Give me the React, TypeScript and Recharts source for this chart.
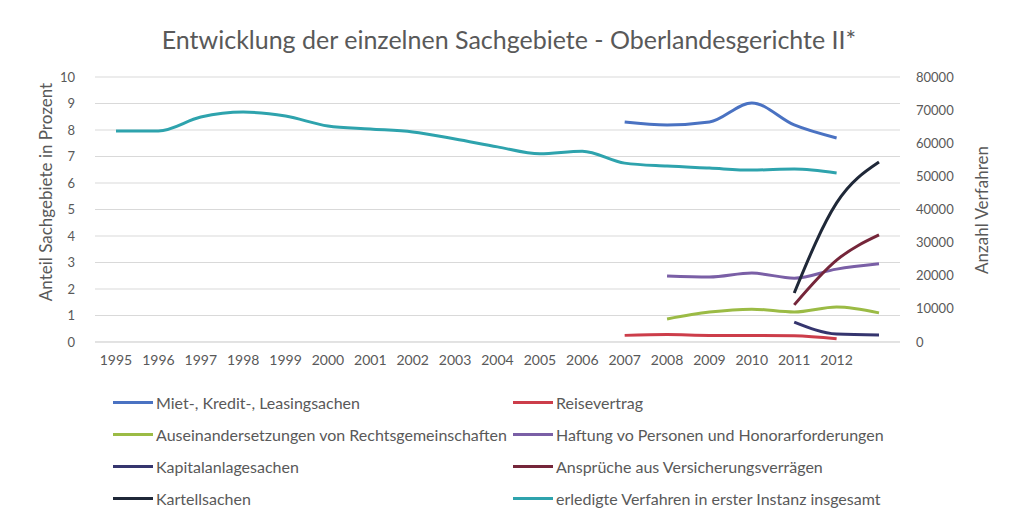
import React from 'react';
import { ComposedChart, Line, XAxis, YAxis, CartesianGrid } from 'recharts';

const years = ['1995','1996','1997','1998','1999','2000','2001','2002','2003','2004','2005','2006','2007','2008','2009','2010','2011','2012','2013'];
const tickLabels = ['1995','1996','1997','1998','1999','2000','2001','2002','2003','2004','2005','2006','2007','2008','2009','2010','2011','2012',''];
const N = null;
const miet = [N,N,N,N,N,N,N,N,N,N,N,N,8.3,8.19,8.3,9.02,8.19,7.7,N];
const reise = [N,N,N,N,N,N,N,N,N,N,N,N,0.25,0.28,0.25,0.25,0.24,0.12,N];
const ausein = [N,N,N,N,N,N,N,N,N,N,N,N,N,0.87,1.13,1.24,1.13,1.32,1.1];
const haftung = [N,N,N,N,N,N,N,N,N,N,N,N,N,2.49,2.45,2.6,2.41,2.75,2.95];
const kapital = [N,N,N,N,N,N,N,N,N,N,N,N,N,N,N,N,0.75,0.3,0.26];
const anspr = [N,N,N,N,N,N,N,N,N,N,N,N,N,N,N,N,1.4,3.09,4.04];
const kartell = [N,N,N,N,N,N,N,N,N,N,N,N,N,N,N,N,1.85,5.25,6.79];
const erledigt = [63700,63700,67900,69400,68200,65200,64300,63400,61300,58900,56800,57600,54000,53100,52500,51900,52200,51000,N];

const leftTicks = [0,1,2,3,4,5,6,7,8,9,10];
const rightTicks = [0,10000,20000,30000,40000,50000,60000,70000,80000];

const series = [
  { key: 'miet', name: 'Miet-, Kredit-, Leasingsachen', color: '#4a72c2', axis: 'left', values: miet },
  { key: 'reise', name: 'Reisevertrag', color: '#cc3d4a', axis: 'left', values: reise },
  { key: 'ausein', name: 'Auseinandersetzungen von Rechtsgemeinschaften', color: '#9bbb45', axis: 'left', values: ausein },
  { key: 'haftung', name: 'Haftung vo Personen und Honorarforderungen', color: '#7a5fa6', axis: 'left', values: haftung },
  { key: 'kapital', name: 'Kapitalanlagesachen', color: '#35356e', axis: 'left', values: kapital },
  { key: 'anspr', name: 'Ansprüche aus Versicherungsverrägen', color: '#75263a', axis: 'left', values: anspr },
  { key: 'kartell', name: 'Kartellsachen', color: '#1f2838', axis: 'left', values: kartell },
  { key: 'erledigt', name: 'erledigte Verfahren in erster Instanz insgesamt', color: '#2ea3ad', axis: 'right', values: erledigt },
];

const data = years.map((y, i) => {
  const row: any = { year: y };
  series.forEach(s => { row[s.key] = s.values[i]; });
  return row;
});

const FONT = 'Lato, "Open Sans", sans-serif';
const GRAY = '#595959';

export default function App() {
  return (
    <div style={{ position: 'absolute', left: 0, top: 0, width: 1018, height: 518, background: '#fff', fontFamily: FONT }}>
      <div style={{ position: 'absolute', left: 0, top: 24, width: 1018, textAlign: 'center', fontSize: 25, color: GRAY, fontFamily: FONT }}>
        Entwicklung der einzelnen Sachgebiete - Oberlandesgerichte II*
      </div>
      <ComposedChart width={1018} height={518} data={data} margin={{ top: 77, right: 0, bottom: 146, left: 0 }}>
        <CartesianGrid vertical={false} stroke="#d9d9d9" yAxisId="left" />
        <XAxis dataKey="year" tickLine={false} axisLine={{ stroke: '#d9d9d9' }} height={30} tickSize={0} tickMargin={13}
          interval={0} padding={{ left: 21, right: 21 }} tickFormatter={(v: string, i: number) => tickLabels[i]}
          tick={{ fill: GRAY, fontSize: 14, fontFamily: FONT }} />
        <YAxis yAxisId="left" orientation="left" domain={[0, 10]} ticks={leftTicks} width={95} axisLine={false} tickLine={false}
          tickSize={0} tickMargin={20} tick={{ fill: GRAY, fontSize: 13, fontFamily: FONT }} />
        <YAxis yAxisId="right" orientation="right" domain={[0, 80000]} ticks={rightTicks} width={118} axisLine={false} tickLine={false}
          tickSize={0} tickMargin={16} tick={{ fill: GRAY, fontSize: 13, fontFamily: FONT }} />
        {series.map(s => (
          <Line key={s.key} yAxisId={s.axis} type="monotone" dataKey={s.key} name={s.name} stroke={s.color} strokeWidth={3}
            dot={false} activeDot={false} isAnimationActive={false} connectNulls={false} />
        ))}
      </ComposedChart>
      <div style={{ position: 'absolute', left: 45, top: 192, transform: 'translate(-50%, -50%) rotate(-90deg)', whiteSpace: 'nowrap', fontSize: 17, color: GRAY }}>
        Anteil Sachgebiete in Prozent
      </div>
      <div style={{ position: 'absolute', left: 981, top: 210, transform: 'translate(-50%, -50%) rotate(-90deg)', whiteSpace: 'nowrap', fontSize: 17, color: GRAY }}>
        Anzahl Verfahren
      </div>
      {series.map((s, i) => {
        const col = i % 2;
        const row = Math.floor(i / 2);
        const left = col === 0 ? 113 : 513;
        const top = 402 + row * 32.3;
        return (
          <div key={s.key} style={{ position: 'absolute', left, top: top - 10, height: 20, display: 'flex', alignItems: 'center', whiteSpace: 'nowrap' }}>
            <div style={{ width: 40, height: 3, background: s.color, marginRight: 3 }} />
            <span style={{ fontSize: 16, color: GRAY }}>{s.name}</span>
          </div>
        );
      })}
    </div>
  );
}
